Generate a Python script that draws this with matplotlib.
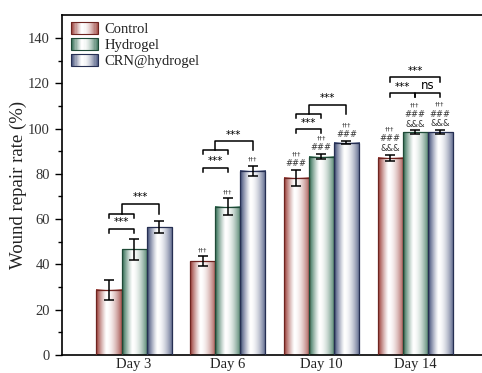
import numpy as np
import matplotlib
matplotlib.use("Agg")
import matplotlib.pyplot as plt
from matplotlib.patches import Rectangle
from matplotlib.legend_handler import HandlerBase
from matplotlib.colors import to_rgb

# wound repair data (mean, sd)
days = ["Day 3", "Day 6", "Day 10", "Day 14"]
groups = ["Control", "Hydrogel", "CRN@hydrogel"]
control = [28.8, 41.5, 78.3, 87.0]
control_err = [4.4, 2.3, 3.5, 1.4]
hydrogel = [46.6, 65.5, 87.6, 98.4]
hydrogel_err = [4.5, 3.7, 1.2, 0.8]
crn = [56.4, 81.3, 93.8, 98.4]
crn_err = [2.7, 2.3, 0.7, 0.9]

# marks above each bar, listed bottom-up
ctrl_marks = [[], ["†††"], ["###", "†††"], ["&&&", "###", "†††"]]
hydro_marks = [[], ["†††"], ["###", "†††"], ["&&&", "###", "†††"]]
crn_marks = [[], ["†††"], ["###", "†††"], ["&&&", "###", "†††"]]

colors = ["#983a34", "#2e6a50", "#3b4874"]
edges = ["#6e2420", "#1f4a37", "#262f52"]

plt.rcParams["font.family"] = "Liberation Serif"

fig = plt.figure(figsize=(4.82, 3.73), dpi=100)
ax = fig.add_axes([0.128, 0.0483, 0.872, 0.9107])

x = np.arange(1, len(days) + 1)
w = 0.267


def shade(u):
    # dark at the left edge, white just left of centre, tinted towards the right
    return np.where(u < 0.4, ((0.4 - u) / 0.4) ** 1.2, 0.85 * ((u - 0.4) / 0.6) ** 1.8)


def grad_row(color, n=64):
    u = np.linspace(0, 1, n)
    t = shade(u)[:, None]
    c = np.array(to_rgb(color))[None, :]
    return (1 - t) * 1.0 + t * c


def gradient_bar(ax, x0, h, color, edge):
    img = grad_row(color)[None, :, :]
    ax.imshow(img, extent=[x0 - w / 2, x0 + w / 2, 0, h], aspect="auto",
              interpolation="bilinear", zorder=2)
    ax.add_patch(Rectangle((x0 - w / 2, 0), w, h, fill=False, edgecolor=edge,
                           linewidth=0.9, zorder=3))


series = [(control, control_err, ctrl_marks), (hydrogel, hydrogel_err, hydro_marks),
          (crn, crn_err, crn_marks)]
for k, (vals, errs, marks) in enumerate(series):
    xs = x + (k - 1) * w
    for xi, v in zip(xs, vals):
        gradient_bar(ax, xi, v, colors[k], edges[k])
    ax.errorbar(xs, vals, yerr=errs, fmt="none", ecolor="black", elinewidth=1.1,
                capsize=3.5, capthick=1.1, zorder=4)
    for xi, v, e, m in zip(xs, vals, errs, marks):
        y = v + e + 2.7
        for s in m:
            fs = 4.5 if s == "†††" else 6
            ax.text(xi, y, s, ha="center", va="center", fontsize=fs,
                    family="DejaVu Sans", color="#333333", zorder=5)
            y += 4.3


def bracket(ax, x1, x2, y, label, d=1.8, fs=7.5):
    ax.plot([x1, x1, x2, x2], [y - d, y, y, y - d], color="black", lw=1.1, zorder=5)
    ax.text((x1 + x2) / 2, y + 0.6, label, ha="center", va="bottom", fontsize=fs,
            family="DejaVu Sans", zorder=5)


def nested(ax, x1, x2, x3, y1, y2, label, d=1.8):
    # small bracket over x1..x2, joined by a stem to x3
    ax.plot([x1, x1, x2, x2], [y1 - d, y1, y1, y1 - d], color="black", lw=1.1, zorder=5)
    xm = (x1 + x2) / 2
    ax.plot([xm, xm, x3, x3], [y1, y2, y2, y1], color="black", lw=1.1, zorder=5)
    ax.text((xm + x3) / 2, y2 + 0.6, label, ha="center", va="bottom", fontsize=7.5,
            family="DejaVu Sans", zorder=5)


# Day 3
bracket(ax, x[0] - w, x[0], 55.8, "***")
nested(ax, x[0] - w, x[0], x[0] + w, 62.3, 66.8, "***")
# Day 6
bracket(ax, x[1] - w, x[1], 82.7, "***")
nested(ax, x[1] - w, x[1], x[1] + w, 90.5, 94.5, "***")
# Day 10
bracket(ax, x[2] - w, x[2], 99.7, "***")
nested(ax, x[2] - w, x[2], x[2] + w, 106.6, 110.5, "***")
# Day 14
bracket(ax, x[3] - w, x[3] + w, 122.6, "***", d=2.2)
bracket(ax, x[3] - w, x[3], 115.5, "***")
bracket(ax, x[3], x[3] + w, 115.5, "ns", fs=8.5)

ax.set_xlim(0.228, 4.715)
ax.set_ylim(0, 150)
ax.set_xticks(x)
ax.set_xticklabels(days, fontsize=10.5, color="#222222")
ax.tick_params(axis="x", length=0, pad=2.5)
ax.set_yticks(np.arange(0, 141, 20))
ax.set_yticks(np.arange(0, 141, 10), minor=True)
ax.tick_params(axis="y", which="major", length=5, width=1, labelsize=10.5,
               labelcolor="#333333", direction="out")
ax.tick_params(axis="y", which="minor", length=3, width=1, direction="out")
ax.set_ylabel("Wound repair rate (%)", fontsize=13.5, labelpad=1, color="#222222")
ax.spines["right"].set_visible(False)
for s in ["left", "bottom", "top"]:
    ax.spines[s].set_linewidth(1.2)


class GradKey:
    def __init__(self, color, edge):
        self.color = color
        self.edge = edge


class GradHandler(HandlerBase):
    def create_artists(self, legend, orig_handle, xdescent, ydescent, width, height,
                       fontsize, trans):
        n = 24
        row = grad_row(orig_handle.color, n)
        arts = []
        for i in range(n):
            arts.append(Rectangle((-xdescent + i * width / n, -ydescent), width / n + 0.01,
                                  height, facecolor=row[i], edgecolor="none",
                                  transform=trans))
        arts.append(Rectangle((-xdescent, -ydescent), width, height, fill=False,
                              edgecolor=orig_handle.edge, linewidth=0.8, transform=trans))
        return arts


keys = [GradKey(c, e) for c, e in zip(colors, edges)]
leg = ax.legend(keys, groups, handler_map={GradKey: GradHandler()}, loc="upper left",
                bbox_to_anchor=(0.008, 0.998), frameon=False, fontsize=10.5,
                handlelength=1.85, handleheight=0.9, handletextpad=0.45,
                labelspacing=0.15, borderaxespad=0.0)
for t in leg.get_texts():
    t.set_color("#222222")

fig.savefig("out.png", dpi=100)
